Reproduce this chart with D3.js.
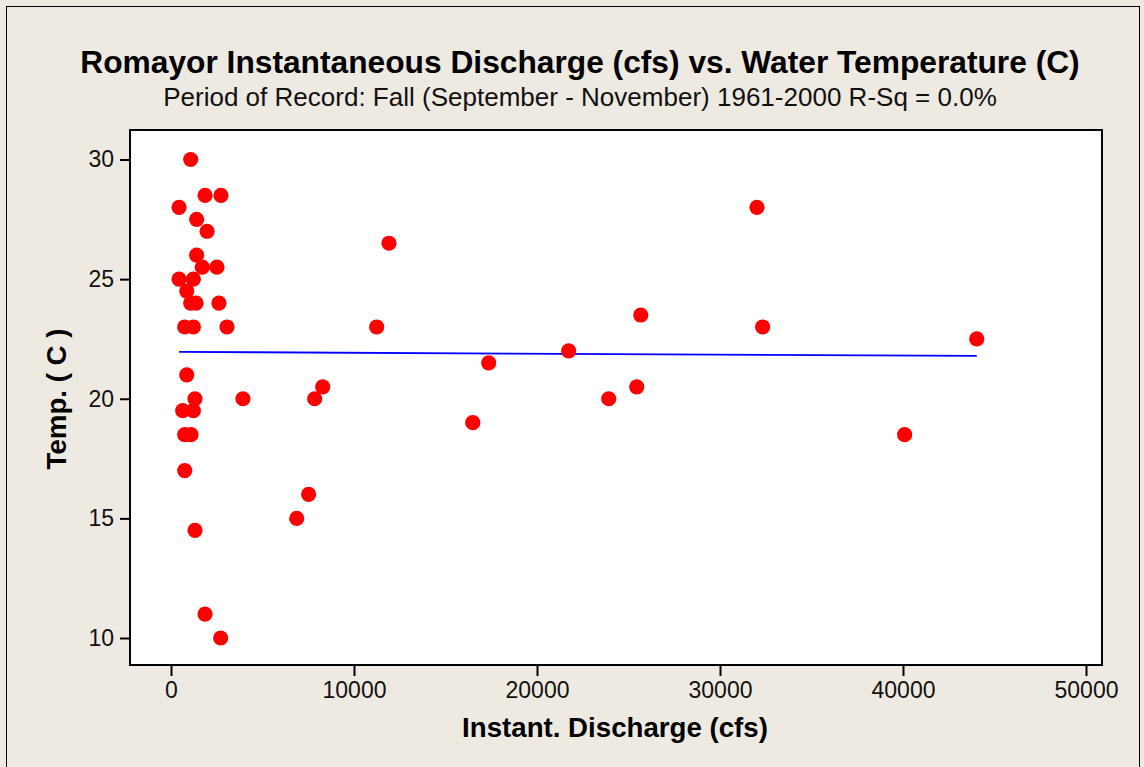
<!DOCTYPE html>
<html><head><meta charset="utf-8">
<script src="https://cdn.jsdelivr.net/npm/d3@7"></script>
<style>html,body{margin:0;padding:0;background:#EEEAE1;}svg{display:block;}</style>
</head><body>
<script>
// ---- data ----
const discharge = [1075,1860,2730,440,1400,1970,1400,1710,2510,440,1220,860,1075,1370,2620,750,1220,3060,860,1310,3930,640,1220,750,1090,750,1310,1860,2715,6870,7520,7850,8290,11240,11910,16490,17360,21730,23920,25450,25670,32020,32330,40090,44030];
const temperature = [30,28.5,28.5,28,27.5,27,26,25.5,25.5,25,25,24.5,24,24,24,23,23,23,21,20,20,19.5,19.5,18.5,18.5,17,14.5,11,10,15,16,20,20.5,23,26.5,19,21.5,22,20,20.5,23.5,28,23,18.5,22.5];
const fitDischarge = [440, 44030];
const fitTemperature = [21.96, 21.79];
const xTicks = [0,10000,20000,30000,40000,50000];
const yTicks = [10,15,20,25,30];
const titleText = "Romayor Instantaneous Discharge (cfs) vs. Water Temperature (C)";
const subtitleText = "Period of Record: Fall (September - November) 1961-2000 R-Sq = 0.0%";
const xLabel = "Instant. Discharge (cfs)";
const yLabel = "Temp. ( C )";

// ---- layout ----
const W = 1144, H = 767;
const box = {l:130, t:130, r:1102, b:665};
const svg = d3.select("body").append("svg").attr("width", W).attr("height", H);
svg.append("rect").attr("width", W).attr("height", H).attr("fill", "#EEEAE1");
svg.append("rect").attr("x",6.5).attr("y",6.5).attr("width",1133).attr("height",780)
   .attr("fill","none").attr("stroke","#000").attr("stroke-width",1);

const x = d3.scaleLinear().domain([0,50000]).range([171,1086]);
const y = d3.scaleLinear().domain([10,30]).range([638,159.5]);

svg.append("rect").attr("x",box.l).attr("y",box.t).attr("width",box.r-box.l).attr("height",box.b-box.t)
   .attr("fill","#fff");

const font = "'Liberation Sans', Arial, sans-serif";

// axes
const xAxis = svg.append("g").attr("transform",`translate(0,${box.b})`)
  .call(d3.axisBottom(x).tickValues(xTicks).tickFormat(d3.format("d")).tickSize(11).tickPadding(6));
const yAxis = svg.append("g").attr("transform",`translate(${box.l},0)`)
  .call(d3.axisLeft(y).tickValues(yTicks).tickSize(10).tickPadding(6));
[xAxis,yAxis].forEach(g=>{
  g.select(".domain").remove();
  g.selectAll(".tick line").attr("stroke","#000").attr("stroke-width",2);
  g.selectAll(".tick text").attr("font-family",font).attr("font-size",23).attr("fill","#111");
});

// fit line
const clip = svg.append("clipPath").attr("id","c").append("rect")
  .attr("x",box.l).attr("y",box.t).attr("width",box.r-box.l).attr("height",box.b-box.t);
const fit = fitDischarge.map((d,i)=>[d, fitTemperature[i]]);
svg.append("path").datum(fit).attr("clip-path","url(#c)")
  .attr("d", d3.line().x(d=>x(d[0])).y(d=>y(d[1])))
  .attr("fill","none").attr("stroke","#0000FF").attr("stroke-width",1.8);

// points
svg.append("g").attr("clip-path","url(#c)").selectAll("circle")
  .data(discharge.map((d,i)=>[d, temperature[i]]))
  .join("circle").attr("cx",d=>x(d[0])).attr("cy",d=>y(d[1])).attr("r",7.6).attr("fill","#FF0000");

// frame
svg.append("rect").attr("x",box.l).attr("y",box.t).attr("width",box.r-box.l).attr("height",box.b-box.t)
   .attr("fill","none").attr("stroke","#000").attr("stroke-width",2);

// texts
function fitText(t, target){
  const w = t.node().getComputedTextLength();
  const fs = parseFloat(t.attr("font-size"));
  t.attr("font-size", fs*target/w);
}
const title = svg.append("text").attr("x",580).attr("y",73).attr("text-anchor","middle")
  .attr("font-family",font).attr("font-weight","bold").attr("font-size",27).attr("fill","#000").text(titleText);
fitText(title, 1000);
const sub = svg.append("text").attr("x",580).attr("y",106).attr("text-anchor","middle")
  .attr("font-family",font).attr("font-size",22).attr("fill","#111").text(subtitleText);
fitText(sub, 834);
const xl = svg.append("text").attr("x",615).attr("y",737).attr("text-anchor","middle")
  .attr("font-family",font).attr("font-weight","bold").attr("font-size",23).attr("fill","#000").text(xLabel);
fitText(xl, 306);
const yl = svg.append("text").attr("transform","translate(66,399) rotate(-90)").attr("text-anchor","middle")
  .attr("font-family",font).attr("font-weight","bold").attr("font-size",22).attr("fill","#000").text(yLabel);
fitText(yl, 141);
</script>
</body></html>
